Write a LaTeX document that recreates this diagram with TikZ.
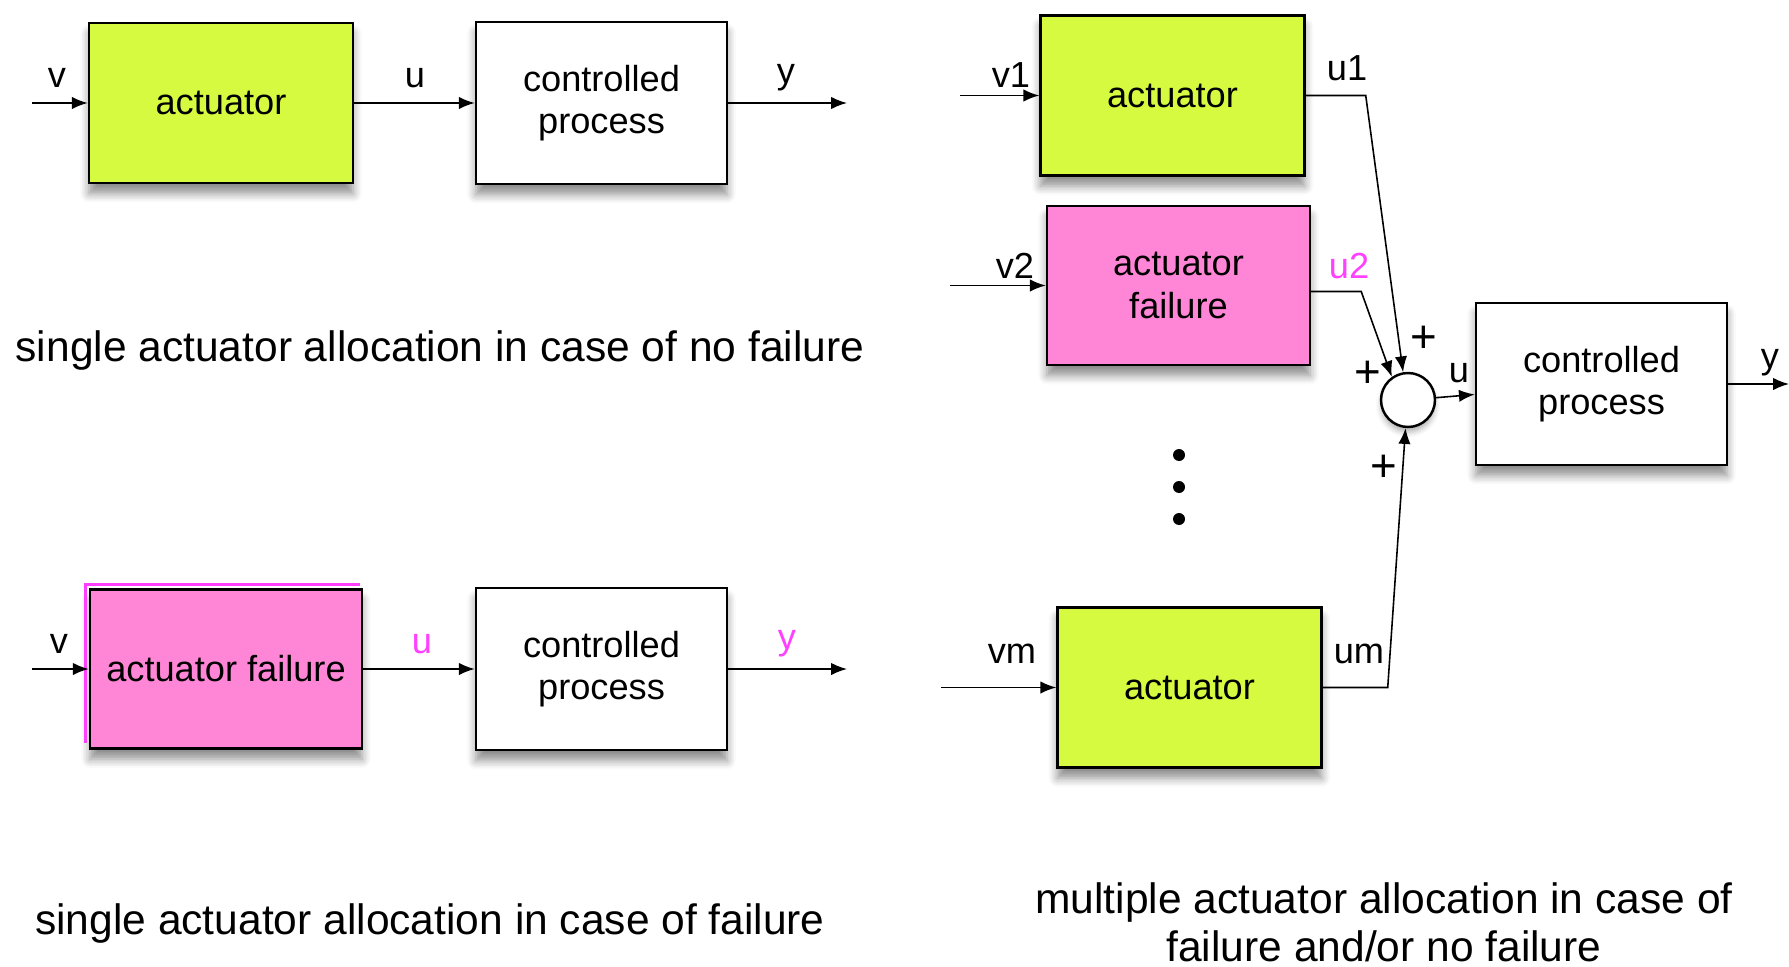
\documentclass[tikz,border=0pt]{standalone}
\usepackage{fontspec}
\setsansfont{Liberation Sans}
\usetikzlibrary{shadows.blur,arrows.meta}
\definecolor{actgreen}{HTML}{D6FA40}
\definecolor{failpink}{HTML}{FF85D6}
\definecolor{failtext}{HTML}{FF40FF}
\begin{document}
\begin{tikzpicture}[font=\sffamily\fontsize{10.3}{12}\selectfont,
  block/.style={draw,line width=0.7pt,fill=white,align=center,minimum width=2.51cm,minimum height=1.62cm,
    blur shadow={shadow xshift=0pt,shadow yshift=-3pt,shadow blur steps=6,shadow blur radius=2.5pt,shadow opacity=45}},
  actbox/.style={block,fill=actgreen,minimum width=2.64cm,minimum height=1.6cm},
  failbox/.style={block,fill=failpink,minimum width=2.63cm,minimum height=1.59cm},
  sumnode/.style={circle,draw,line width=0.7pt,fill=white,minimum size=0.54cm,inner sep=0pt,
    blur shadow={shadow xshift=0pt,shadow yshift=-1.5pt,shadow blur radius=1.5pt,shadow opacity=30}},
  sig/.style={-{Latex[length=4.5pt,width=3.5pt]},line width=0.45pt},
  plus/.style={font=\sffamily\fontsize{13}{13}\selectfont},
  caption/.style={font=\sffamily\fontsize{12.1}{13.6}\selectfont,align=center}]
\useasboundingbox (0,0) rectangle (17.89,9.66);
\node[actbox] (act) at (2.21,8.63) {actuator};
\node[block] (proc) at (6.015,8.63) {controlled\\process};
\coordinate (vin) at (0.32,8.63);
\coordinate (yout) at (8.47,8.63);
\draw[sig] (vin) -- (act);
\draw[sig] (act) -- (proc);
\draw[sig] (proc) -- (yout);
\node (lv) at (0.57,8.88) {v};
\node (lu) at (4.15,8.88) {u};
\node (ly) at (7.86,8.88) {y};
\node[caption] (cap1) at (4.40,6.15) {single actuator allocation in case of no failure};
\node[failbox,minimum width=2.72cm] (fail) at (2.26,2.97) {actuator failure};
\draw[failtext,line width=0.8pt] ([xshift=-1pt,yshift=2pt]fail.south west) -- ([xshift=-1pt,yshift=1pt]fail.north west) -- ([xshift=-1pt,yshift=1pt]fail.north east);
\node[block] (proc2) at (6.015,2.97) {controlled\\process};
\coordinate (vin2) at (0.32,2.97);
\coordinate (yout2) at (8.47,2.97);
\draw[sig] (vin2) -- (fail);
\draw[sig] (fail) -- (proc2);
\draw[sig] (proc2) -- (yout2);
\node (lv2) at (0.59,3.22) {v};
\node[text=failtext] (lu2) at (4.22,3.22) {u};
\node[text=failtext] (ly2) at (7.87,3.22) {y};
\node[caption] (cap2) at (4.30,0.43) {single actuator allocation in case of failure};
\node[actbox] (act1) at (11.725,8.705) {actuator};
\node[failbox] (fail1) at (11.785,6.805) {actuator\\failure};
\node[actbox] (actm) at (11.895,2.785) {actuator};
\node[sumnode] (sum) at (14.08,5.66) {};
\node[block] (proc3) at (16.015,5.82) {controlled\\process};
\coordinate (vin1) at (9.60,8.705);
\coordinate (vinf) at (9.50,6.805);
\coordinate (vinm) at (9.41,2.785);
\coordinate (yout3) at (17.89,5.82);
\draw[sig] (vin1) -- (act1);
\draw[sig] (vinf) -- (fail1);
\draw[sig] (vinm) -- (actm);
\draw[sig] (act1.east) -- ++(0.6,0) -- (sum.100);
\draw[sig] ([yshift=-0.06cm]fail1.east) -- ++(0.5,0) -- (sum.125);
\draw[sig] (actm.east) -- ++(0.65,0) -- (sum.265);
\draw[sig] (sum) -- (proc3);
\draw[sig] (proc3) -- (yout3);
\foreach \y in {5.11,4.79,4.47} \fill (11.79,\y) circle (0.06);
\node (lv1) at (10.11,8.91) {v1};
\node (lu1) at (13.47,8.98) {u1};
\node (lvf) at (10.15,7.00) {v2};
\node[text=failtext] (luf) at (13.49,7.00) {u2};
\node (lvm) at (10.12,3.12) {vm};
\node (lum) at (13.59,3.12) {um};
\node[plus] (p1) at (14.24,6.27) {+};
\node[plus] (p2) at (13.68,5.92) {+};
\node[plus] (p3) at (13.84,4.98) {+};
\node (lu3) at (14.59,5.93) {u};
\node (ly3) at (17.70,6.03) {y};
\node[caption] (cap3) at (13.84,0.44) {multiple actuator allocation in case of\\failure and/or no failure};
\end{tikzpicture}
\end{document}
